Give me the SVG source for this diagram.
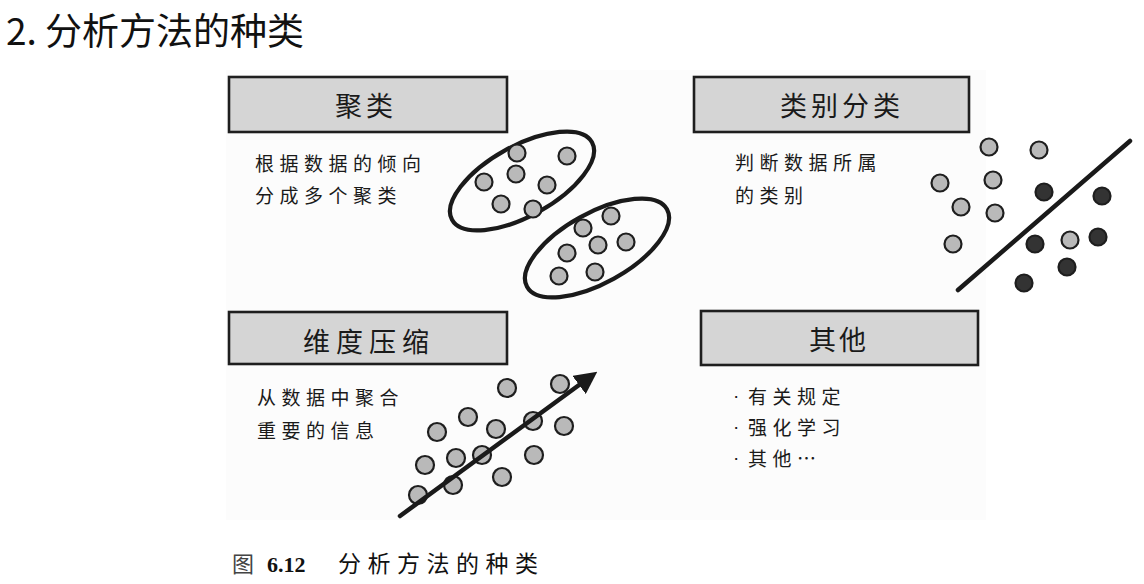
<svg xmlns="http://www.w3.org/2000/svg" width="1144" height="584" viewBox="0 0 1144 584">
<style>
.bg{fill:#ffffff}
.panel{fill:#fcfcfc}
.box{fill:#d5d5d5;stroke:#1e1e1e;stroke-width:2.6}
.ttl{font-family:"Noto Sans CJK SC",sans-serif;font-size:27px;fill:#1a1a1a;text-anchor:middle}
.body{font-family:"Noto Sans CJK SC",sans-serif;font-size:19px;fill:#1a1a1a;letter-spacing:5.5px}
.bul{font-family:"Liberation Sans",sans-serif;font-size:19px;fill:#1a1a1a}
.pt{fill:#b9b9b9;stroke:#1e1e1e;stroke-width:2.2}
.dk{fill:#333333;stroke:#1e1e1e;stroke-width:2.2}
.ell{fill:none;stroke:#1a1a1a;stroke-width:4.2}
.ln{stroke:#1a1a1a;stroke-width:4.5;stroke-linecap:round;fill:none}
</style>
<defs>
<marker id="ah" viewBox="0 0 10 10" refX="6" refY="5" markerWidth="5" markerHeight="5" orient="auto" markerUnits="strokeWidth">
<path d="M0,0 L10,5 L0,10 z" fill="#1a1a1a"/>
</marker>
</defs>
<rect class="bg" x="0" y="0" width="1144" height="584"/>
<rect class="panel" x="226" y="70" width="760" height="450"/>

<text x="6" y="45" font-family="'Noto Sans CJK SC',sans-serif" font-size="37" fill="#111">2. 分析方法的种类</text>

<g id="clustering">
<rect class="box" x="229" y="77" width="278" height="55"/>
<text class="ttl" x="366" y="116" letter-spacing="4">聚类</text>
<text class="body" x="255" y="171">根据数据的倾向</text>
<text class="body" x="255" y="203">分成多个聚类</text>
<ellipse class="ell" cx="522" cy="181" rx="80" ry="35" transform="rotate(-29 522 181)"/>
<ellipse class="ell" cx="597" cy="248" rx="80" ry="35" transform="rotate(-29 597 248)"/>
<circle class="pt" cx="517" cy="153" r="8.5"/>
<circle class="pt" cx="567" cy="156" r="8.5"/>
<circle class="pt" cx="516" cy="174" r="8.5"/>
<circle class="pt" cx="484" cy="182" r="8.5"/>
<circle class="pt" cx="547" cy="185" r="8.5"/>
<circle class="pt" cx="501" cy="204" r="8.5"/>
<circle class="pt" cx="533" cy="209" r="8.5"/>
<circle class="pt" cx="611" cy="216" r="8.5"/>
<circle class="pt" cx="583" cy="228" r="8.5"/>
<circle class="pt" cx="598" cy="245" r="8.5"/>
<circle class="pt" cx="626" cy="242" r="8.5"/>
<circle class="pt" cx="567" cy="253" r="8.5"/>
<circle class="pt" cx="595" cy="272" r="8.5"/>
<circle class="pt" cx="559" cy="276" r="8.5"/>
</g>

<g id="classification">
<rect class="box" x="694" y="77" width="275" height="55"/>
<text class="ttl" x="842" y="116" letter-spacing="4">类别分类</text>
<text class="body" x="735" y="170">判断数据所属</text>
<text class="body" x="735" y="203">的类别</text>
<circle class="pt" cx="989" cy="147" r="8.5"/>
<circle class="pt" cx="1039" cy="150" r="8.5"/>
<circle class="pt" cx="940" cy="183" r="8.5"/>
<circle class="pt" cx="993" cy="180" r="8.5"/>
<circle class="pt" cx="961" cy="207" r="8.5"/>
<circle class="pt" cx="995" cy="213" r="8.5"/>
<circle class="pt" cx="953" cy="244" r="8.5"/>
<circle class="pt" cx="1070" cy="240" r="8.5"/>
<circle class="dk" cx="1044" cy="192" r="8.5"/>
<circle class="dk" cx="1102" cy="196" r="8.5"/>
<circle class="dk" cx="1035" cy="244" r="8.5"/>
<circle class="dk" cx="1098" cy="237" r="8.5"/>
<circle class="dk" cx="1067" cy="267" r="8.5"/>
<circle class="dk" cx="1024" cy="283" r="8.5"/>
<line class="ln" x1="958" y1="290" x2="1130" y2="141"/>
</g>

<g id="dimension-reduction">
<rect class="box" x="229" y="312" width="278" height="52"/>
<text class="ttl" x="369" y="352" letter-spacing="6">维度压缩</text>
<text class="body" x="257" y="405">从数据中聚合</text>
<text class="body" x="257" y="438">重要的信息</text>
<circle class="pt" cx="507" cy="388" r="9"/>
<circle class="pt" cx="560" cy="384" r="9"/>
<circle class="pt" cx="468" cy="417" r="9"/>
<circle class="pt" cx="437" cy="432" r="9"/>
<circle class="pt" cx="496" cy="429" r="9"/>
<circle class="pt" cx="533" cy="421" r="9"/>
<circle class="pt" cx="564" cy="426" r="9"/>
<circle class="pt" cx="456" cy="458" r="9"/>
<circle class="pt" cx="482" cy="455" r="9"/>
<circle class="pt" cx="534" cy="455" r="9"/>
<circle class="pt" cx="425" cy="465" r="9"/>
<circle class="pt" cx="453" cy="485" r="9"/>
<circle class="pt" cx="502" cy="477" r="9"/>
<circle class="pt" cx="418" cy="495" r="9"/>
</g>

<g id="connectors">
<line class="ln" x1="400" y1="516" x2="590" y2="377" marker-end="url(#ah)"/>
</g>

<g id="others">
<rect class="box" x="701" y="311" width="277" height="54"/>
<text class="ttl" x="839" y="350" letter-spacing="3">其他</text>
<text class="bul" x="733" y="402">·</text>
<text class="body" x="748" y="404">有关规定</text>
<text class="bul" x="733" y="433">·</text>
<text class="body" x="748" y="435">强化学习</text>
<text class="bul" x="733" y="464">·</text>
<text class="body" x="748" y="466">其他…</text>
</g>

<g id="caption">
<text x="232" y="572" font-family="'Noto Sans CJK SC',sans-serif" font-size="22" fill="#444">图</text>
<text x="267" y="572" font-family="'Liberation Serif',serif" font-size="22" font-weight="bold" fill="#111">6.12</text>
<text x="338" y="572" font-family="'Noto Sans CJK SC',sans-serif" font-size="23" fill="#111" letter-spacing="6.5">分析方法的种类</text>
</g>
</svg>
